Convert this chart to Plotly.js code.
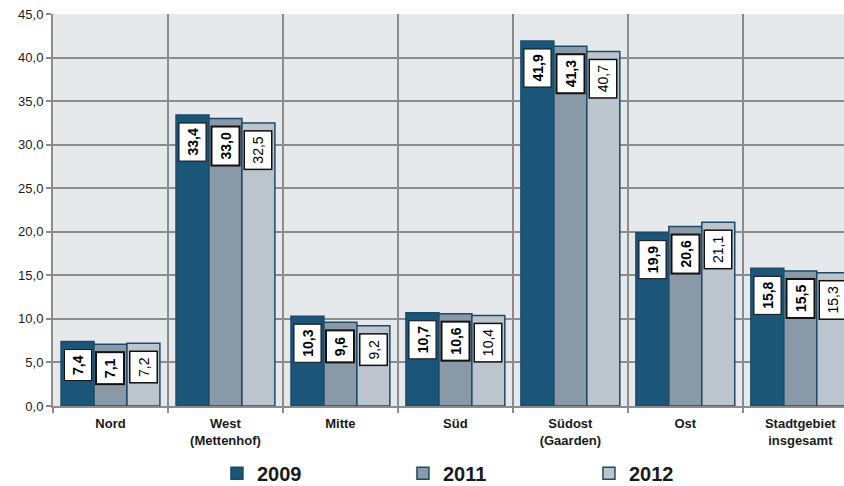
<!DOCTYPE html>
<html><head><meta charset="utf-8">
<script src="https://cdn.plot.ly/plotly-3.0.1.min.js"></script>
<style>html,body{margin:0;padding:0;overflow:hidden;background:#fff}</style>
</head><body>
<div id="chart" style="width:844px;height:486px"></div>
<script>
const categories = ["Nord", "West<br>(Mettenhof)", "Mitte", "Süd", "Südost<br>(Gaarden)", "Ost", "Stadtgebiet<br>insgesamt"];
const years = ["2009", "2011", "2012"];
const values2009 = [7.4, 33.4, 10.3, 10.7, 41.9, 19.9, 15.8];
const values2011 = [7.1, 33.0, 9.6, 10.6, 41.3, 20.6, 15.5];
const values2012 = [7.2, 32.5, 9.2, 10.4, 40.7, 21.1, 15.3];
const yTicks = [0, 5, 10, 15, 20, 25, 30, 35, 40, 45];

const series = [values2009, values2011, values2012];
const colors = ["#1b5578", "#8999a8", "#bcc4cd"];
const labelWeights = ["bold", "bold", "normal"];
const borderWidths = [1, 2, 1.5];
const FONT = "'Liberation Sans', Arial, sans-serif";

const W = 844, H = 486;
const margin = {l: 53, r: 0, t: 14, b: 80, autoexpand: false};
const xRange = [-0.5, 6.38];
const bargap = 0.14;
const unitPx = (W - margin.l - margin.r) / (xRange[1] - xRange[0]);
const barW = (1 - bargap) / 3;
const LABEL_GAP = 8;

const traces = series.map((vals, k) => ({
  type: "bar",
  name: years[k],
  x: categories,
  y: vals,
  marker: {color: colors[k], line: {color: "#1d4a68", width: 1.5}},
  hoverinfo: "none"
}));

const fmt = v => v.toFixed(1).replace(".", ",");
const annotations = [];
series.forEach((vals, k) => {
  vals.forEach((v, i) => {
    annotations.push({
      x: categories[i], y: v, xref: "x", yref: "y",
      text: fmt(v), showarrow: false, textangle: -90,
      yanchor: "top",
      xshift: (k - 1) * barW * unitPx, yshift: -LABEL_GAP,
      bgcolor: "#ffffff", bordercolor: "#111111", borderwidth: borderWidths[k], borderpad: 5,
      font: {family: FONT, size: 14, color: "#000", weight: labelWeights[k]}
    });
  });
});

const layout = {
  width: W, height: H,
  margin: margin,
  paper_bgcolor: "#ffffff",
  plot_bgcolor: "#e6e9ec",
  barmode: "group",
  bargap: bargap,
  bargroupgap: 0,
  separators: ",.",
  font: {family: FONT, color: "#1a1a1a"},
  xaxis: {
    range: xRange, type: "category",
    tickson: "boundaries", ticks: "outside", ticklen: 5, tickcolor: "#8c8c8c", tickwidth: 2,
    showgrid: true, gridcolor: "#8c8c8c", gridwidth: 2,
    showline: true, linecolor: "#8c8c8c", linewidth: 2,
    ticklabelstandoff: 4,
    tickfont: {family: FONT, size: 13, weight: "bold", color: "#1a1a1a"},
    fixedrange: true
  },
  yaxis: {
    range: [0, 45], tickvals: yTicks, tickformat: ".1f",
    ticks: "outside", ticklen: 5, tickcolor: "#8c8c8c", tickwidth: 2,
    showgrid: true, gridcolor: "#8c8c8c", gridwidth: 2,
    showline: true, linecolor: "#8c8c8c", linewidth: 2,
    zeroline: false,
    tickfont: {family: FONT, size: 13, color: "#1a1a1a"},
    fixedrange: true
  },
  legend: {
    orientation: "h", x: 0.56, xanchor: "center", y: -0.122, yanchor: "top",
    font: {family: FONT, size: 20, weight: "bold", color: "#1a1a1a"},
    entrywidth: 141, entrywidthmode: "pixels",
    itemclick: false, itemdoubleclick: false
  },
  showlegend: true,
  annotations: annotations
};

Plotly.newPlot("chart", traces, layout, {displayModeBar: false}).then(gd => {
  // turn each value box upright (as textangle asks) and pin its top just below the bar top
  const ya = gd._fullLayout.yaxis;
  gd.querySelectorAll(".annotation").forEach(node => {
    const idx = +node.getAttribute("data-index");
    const ann = annotations[idx];
    const g = node.querySelector(".annotation-text-g");
    if (!g || !ann) return;
    const bb = g.getBBox();
    if (!bb.width || !bb.height) return;
    const cx = bb.x + bb.width / 2, cy = bb.y + bb.height / 2;
    const desiredTop = ya._offset + ya.l2p(ann.y) + LABEL_GAP;
    const dy = desiredTop - (cy - bb.width / 2);
    g.removeAttribute("transform");
    g.style.transformOrigin = "0px 0px";
    g.style.transform = "translate(0px," + dy + "px) translate(" + cx + "px," + cy + "px) rotate(" + ann.textangle + "deg) translate(" + (-cx) + "px," + (-cy) + "px)";
  });
});
</script>
</body></html>
